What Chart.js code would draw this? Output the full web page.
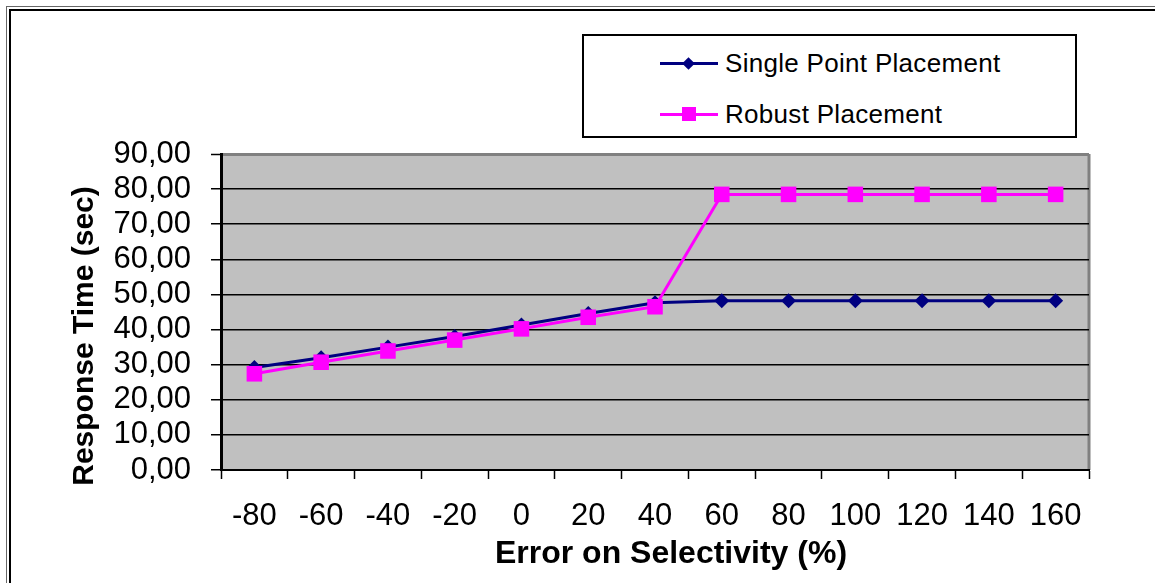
<!DOCTYPE html>
<html>
<head>
<meta charset="utf-8">
<title>Response Time vs Error on Selectivity</title>
<script src="https://cdn.jsdelivr.net/npm/chart.js@4/dist/chart.umd.min.js"></script>
<style>
  html, body { margin: 0; padding: 0; background: #fff; overflow: hidden; }
  #wrap { position: relative; width: 1155px; height: 583px; overflow: hidden; }
  .frame-outer { position: absolute; left: 6px; top: 6px; width: 2000px; height: 2000px;
                 border-left: 1px solid #666; border-top: 1px solid #666; }
  .frame-inner { position: absolute; left: 9px; top: 9px; width: 2000px; height: 2000px;
                 border-left: 2px solid #000; border-top: 2px solid #000; }
  #chart { position: absolute; left: 0; top: 0; }
  #legend { position: absolute; left: 582px; top: 34px; width: 491px; height: 100px;
            border: 2px solid #000; background: #fff;
            font-family: "Liberation Sans", Arial, sans-serif; font-size: 26px; color: #000; }
  .item { position: absolute; left: 76px; height: 30px; width: 410px; }
  .item .line { position: absolute; left: 0; top: 14px; width: 58px; height: 3px; }
  .item .mark { position: absolute; }
  .item .text { position: absolute; left: 65px; top: 0; line-height: 30px; white-space: nowrap;
                letter-spacing: 0.3px; }
</style>
</head>
<body>
<div id="wrap">
  <div class="frame-outer"></div>
  <div class="frame-inner"></div>
  <canvas id="chart" width="1155" height="583"></canvas>
  <div id="legend"></div>
</div>
<script>
const categories = ['-80', '-60', '-40', '-20', '0', '20', '40', '60', '80', '100', '120', '140', '160'];
const singlePoint = [29.2, 32.0, 35.0, 38.0, 41.3, 44.6, 47.6, 48.2, 48.2, 48.2, 48.2, 48.2, 48.2];
const robust = [27.4, 30.7, 33.9, 37.0, 40.2, 43.5, 46.5, 78.5, 78.5, 78.5, 78.5, 78.5, 78.5];
const seriesNames = ['Single Point Placement', 'Robust Placement'];
const xTitle = 'Error on Selectivity (%)';
const yTitle = 'Response Time (sec)';

const NAVY = '#000080';
const MAGENTA = '#ff00ff';

// gray plot background with a darker right edge
const plotBackground = {
    id: 'plotBackground',
    beforeDraw(chart) {
        const { ctx, chartArea: a } = chart;
        ctx.save();
        ctx.fillStyle = '#c0c0c0';
        ctx.fillRect(a.left, a.top, a.right - a.left, a.bottom - a.top);
        ctx.strokeStyle = '#808080';
        ctx.lineWidth = 3;
        ctx.beginPath();
        ctx.moveTo(a.right, a.top);
        ctx.lineTo(a.right, a.bottom);
        ctx.stroke();
        ctx.restore();
    }
};

// axis titles, placed relative to the plot area
const axisTitles = {
    id: 'axisTitles',
    afterDraw(chart) {
        const { ctx, chartArea: a } = chart;
        ctx.save();
        ctx.fillStyle = '#000';
        ctx.textAlign = 'center';
        ctx.textBaseline = 'middle';
        ctx.font = 'bold 32px "Liberation Sans", Arial, sans-serif';
        ctx.fillText(xTitle, (a.left + a.right) / 2 + 16, a.bottom + 84);
        ctx.font = 'bold 30px "Liberation Sans", Arial, sans-serif';
        ctx.translate(85, (a.top + a.bottom) / 2 + 24);
        ctx.rotate(-Math.PI / 2);
        ctx.fillText(yTitle, 0, 0);
        ctx.restore();
    }
};

const tickFont = { family: '"Liberation Sans", Arial, sans-serif', size: 31 };

const chart = new Chart(document.getElementById('chart'), {
    type: 'line',
    data: {
        labels: categories,
        datasets: [{
            label: seriesNames[0],
            data: singlePoint,
            borderColor: NAVY,
            backgroundColor: NAVY,
            borderWidth: 3,
            pointStyle: 'rectRot',
            pointRadius: 7.5,
            pointBorderWidth: 0,
            order: 1
        }, {
            label: seriesNames[1],
            data: robust,
            borderColor: MAGENTA,
            backgroundColor: MAGENTA,
            borderWidth: 3,
            pointStyle: 'rect',
            pointRadius: 11,
            pointBorderWidth: 0,
            order: 0
        }]
    },
    options: {
        responsive: false,
        animation: false,
        events: [],
        layout: { padding: { left: 0, top: 154, right: 66, bottom: 0 } },
        plugins: {
            legend: { display: false },
            tooltip: { enabled: false }
        },
        scales: {
            x: {
                offset: true,
                afterFit(scale) { scale.height = 113; },
                grid: {
                    offset: true,
                    drawOnChartArea: false,
                    drawTicks: true,
                    tickLength: 9,
                    tickColor: '#000',
                    tickWidth: 1.5
                },
                border: { color: '#000', width: 2 },
                ticks: { color: '#000', font: tickFont, padding: 19, maxRotation: 0, autoSkip: false }
            },
            y: {
                min: 0,
                max: 90,
                afterFit(scale) { scale.width = 221; },
                grid: {
                    color: (ctx) => ctx.tick && ctx.tick.value === 90 ? '#808080' : '#000',
                    lineWidth: (ctx) => ctx.tick && ctx.tick.value === 90 ? 3 : 1.5,
                    tickColor: '#000',
                    tickWidth: 1.5,
                    tickLength: 10
                },
                border: { color: '#000', width: 3 },
                ticks: {
                    stepSize: 10,
                    autoSkip: false,
                    color: '#000',
                    font: tickFont,
                    padding: 20,
                    callback: (v) => v.toFixed(2).replace('.', ',')
                }
            }
        }
    },
    plugins: [plotBackground, axisTitles]
});

// legend box with line + marker samples
const legend = document.getElementById('legend');
chart.data.datasets.forEach((ds, i) => {
    const item = document.createElement('div');
    item.className = 'item';
    item.style.top = (i === 0 ? 12 : 63) + 'px';
    const line = document.createElement('div');
    line.className = 'line';
    line.style.background = ds.borderColor;
    const mark = document.createElement('div');
    mark.className = 'mark';
    mark.style.background = ds.backgroundColor;
    if (ds.pointStyle === 'rectRot') {
        mark.style.width = '9px';
        mark.style.height = '9px';
        mark.style.left = '24px';
        mark.style.top = '11px';
        mark.style.transform = 'rotate(45deg)';
    } else {
        mark.style.width = '14px';
        mark.style.height = '14px';
        mark.style.left = '22px';
        mark.style.top = '8px';
    }
    const text = document.createElement('span');
    text.className = 'text';
    text.textContent = ds.label;
    item.appendChild(line);
    item.appendChild(mark);
    item.appendChild(text);
    legend.appendChild(item);
});
</script>
</body>
</html>
